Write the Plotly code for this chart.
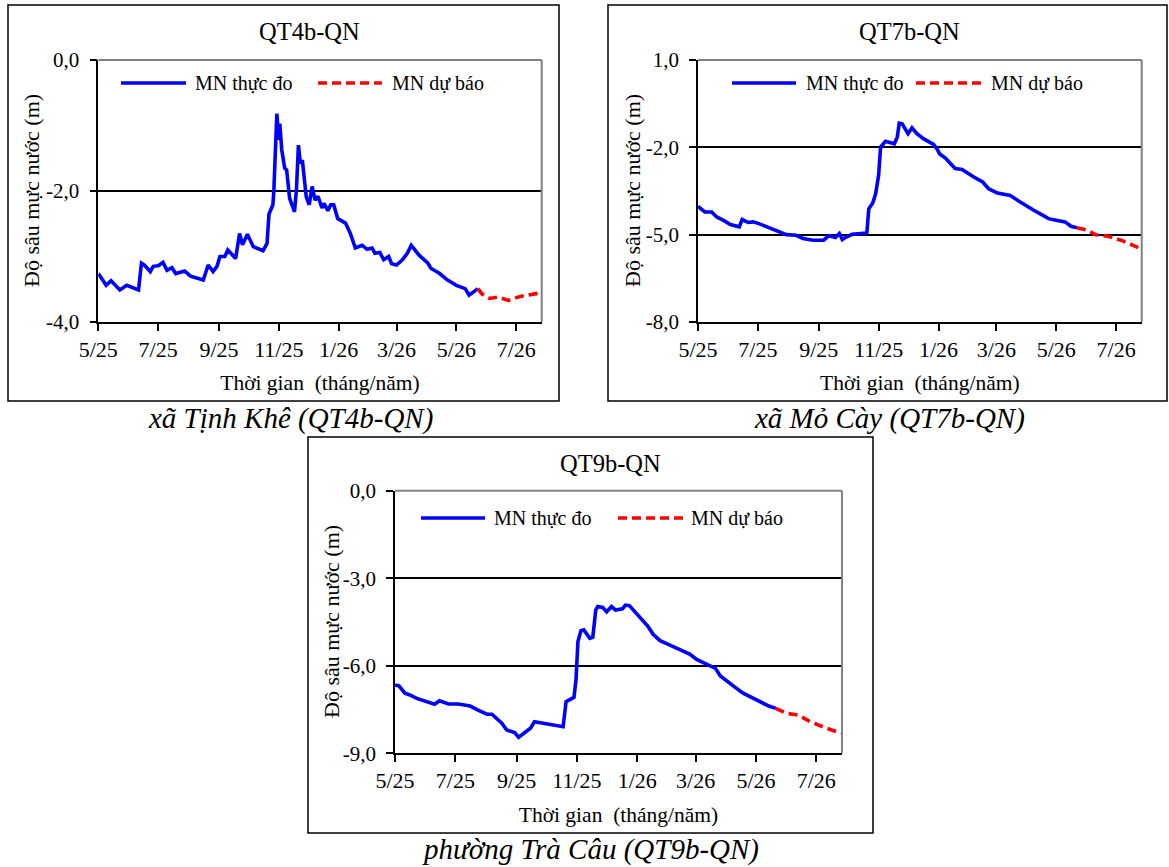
import plotly.graph_objects as go

W, H = 1169, 867
FONT = "Liberation Serif"

# ---------------- data ----------------
tick_vals = ["2025-05-01", "2025-07-01", "2025-09-01", "2025-11-01",
             "2026-01-01", "2026-03-01", "2026-05-01", "2026-07-01"]
tick_text = ["5/25", "7/25", "9/25", "11/25", "1/26", "3/26", "5/26", "7/26"]
x_range = ["2025-05-01", "2026-07-27"]

# QT4b-QN
qt4b_dates = ["2025-05-01", "2025-05-09", "2025-05-14", "2025-05-23", "2025-05-30", "2025-06-04",
              "2025-06-11", "2025-06-14", "2025-06-17", "2025-06-23", "2025-06-26", "2025-07-01",
              "2025-07-06", "2025-07-10", "2025-07-15", "2025-07-19", "2025-07-28", "2025-08-03",
              "2025-08-16", "2025-08-21", "2025-08-26", "2025-08-30", "2025-09-02", "2025-09-07",
              "2025-09-10", "2025-09-18", "2025-09-22", "2025-09-25", "2025-09-30", "2025-10-06",
              "2025-10-16", "2025-10-20", "2025-10-22", "2025-10-26", "2025-10-27", "2025-10-30",
              "2025-11-01", "2025-11-02", "2025-11-04", "2025-11-07", "2025-11-09", "2025-11-12",
              "2025-11-17", "2025-11-19", "2025-11-21", "2025-11-23", "2025-11-25", "2025-11-29",
              "2025-12-02", "2025-12-05", "2025-12-08", "2025-12-11", "2025-12-15", "2025-12-17",
              "2025-12-21", "2025-12-24", "2025-12-27", "2025-12-31", "2026-01-08", "2026-01-13",
              "2026-01-18", "2026-01-25", "2026-01-30", "2026-02-04", "2026-02-07", "2026-02-12",
              "2026-02-16", "2026-02-21", "2026-02-24", "2026-03-01", "2026-03-07", "2026-03-12",
              "2026-03-16", "2026-03-24", "2026-04-02", "2026-04-05", "2026-04-14", "2026-04-22",
              "2026-05-01", "2026-05-10", "2026-05-14", "2026-05-23"]
qt4b_obs = [-3.26, -3.44, -3.37, -3.51, -3.44, -3.47,
            -3.51, -3.10, -3.13, -3.23, -3.15, -3.14,
            -3.09, -3.21, -3.17, -3.26, -3.22, -3.30,
            -3.36, -3.13, -3.23, -3.15, -3.00, -3.00,
            -2.90, -3.03, -2.65, -2.82, -2.66, -2.85,
            -2.91, -2.80, -2.35, -2.21, -1.98, -0.82,
            -1.22, -0.97, -1.37, -1.65, -1.68, -2.11,
            -2.32, -1.98, -1.30, -1.58, -1.53, -2.09,
            -2.21, -1.93, -2.14, -2.08, -2.26, -2.19,
            -2.30, -2.21, -2.21, -2.42, -2.49, -2.65,
            -2.87, -2.83, -2.89, -2.87, -2.95, -2.94,
            -3.05, -3.00, -3.11, -3.13, -3.05, -2.95,
            -2.83, -2.98, -3.10, -3.18, -3.26, -3.36,
            -3.44, -3.49, -3.59, -3.49]
qt4b_fc_dates = ["2026-05-23", "2026-05-27", "2026-06-04", "2026-06-13", "2026-06-23", "2026-07-05", "2026-07-24"]
qt4b_fc = [-3.49, -3.57, -3.64, -3.62, -3.67, -3.61, -3.56]

# QT7b-QN
qt7b_dates = ["2025-05-01", "2025-05-08", "2025-05-15", "2025-05-20", "2025-05-27", "2025-06-03",
              "2025-06-12", "2025-06-15", "2025-06-21", "2025-06-26", "2025-07-02", "2025-07-10",
              "2025-07-20", "2025-07-30", "2025-08-09", "2025-08-16", "2025-08-26", "2025-09-06",
              "2025-09-11", "2025-09-18", "2025-09-22", "2025-09-25", "2025-09-29", "2025-10-05",
              "2025-10-20", "2025-10-22", "2025-10-26", "2025-10-29", "2025-11-01", "2025-11-03",
              "2025-11-08", "2025-11-12", "2025-11-17", "2025-11-20", "2025-11-22", "2025-11-25",
              "2025-12-01", "2025-12-05", "2025-12-10", "2025-12-17", "2025-12-22", "2025-12-27",
              "2025-12-31", "2026-01-02", "2026-01-08", "2026-01-13", "2026-01-18", "2026-01-25",
              "2026-01-30", "2026-02-06", "2026-02-15", "2026-02-21", "2026-03-02", "2026-03-08",
              "2026-03-15", "2026-03-24", "2026-04-01", "2026-04-08", "2026-04-17", "2026-04-23",
              "2026-05-02", "2026-05-10", "2026-05-16", "2026-05-22"]
qt7b_obs = [-4.03, -4.22, -4.22, -4.39, -4.51, -4.65,
            -4.73, -4.48, -4.58, -4.56, -4.62, -4.73,
            -4.88, -5.00, -5.02, -5.13, -5.19, -5.19,
            -5.04, -5.10, -4.96, -5.17, -5.08, -4.99,
            -4.94, -4.11, -3.91, -3.59, -2.96, -1.99,
            -1.79, -1.82, -1.88, -1.65, -1.17, -1.19,
            -1.53, -1.33, -1.53, -1.71, -1.80, -1.90,
            -2.08, -2.22, -2.37, -2.56, -2.73, -2.76,
            -2.88, -3.02, -3.19, -3.42, -3.57, -3.62,
            -3.65, -3.85, -4.03, -4.16, -4.33, -4.45,
            -4.51, -4.56, -4.71, -4.76]
qt7b_fc_dates = ["2026-05-22", "2026-06-02", "2026-06-10", "2026-06-22", "2026-07-06", "2026-07-16", "2026-07-26"]
qt7b_fc = [-4.76, -4.85, -5.00, -5.05, -5.19, -5.33, -5.48]

# QT9b-QN
qt9b_dates = ["2025-05-01", "2025-05-05", "2025-05-11", "2025-05-16", "2025-05-23", "2025-05-30",
              "2025-06-10", "2025-06-15", "2025-06-24", "2025-07-04", "2025-07-11", "2025-07-16",
              "2025-07-24", "2025-08-02", "2025-08-07", "2025-08-12", "2025-08-17", "2025-08-22",
              "2025-08-30", "2025-09-03", "2025-09-09", "2025-09-15", "2025-09-19", "2025-09-28",
              "2025-10-08", "2025-10-18", "2025-10-21", "2025-10-29", "2025-10-31", "2025-11-02",
              "2025-11-05", "2025-11-08", "2025-11-14", "2025-11-17", "2025-11-20", "2025-11-22",
              "2025-11-27", "2025-12-01", "2025-12-06", "2025-12-10", "2025-12-17", "2025-12-20",
              "2025-12-24", "2025-12-31", "2026-01-07", "2026-01-12", "2026-01-17", "2026-01-24",
              "2026-02-03", "2026-02-13", "2026-02-23", "2026-03-02", "2026-03-12", "2026-03-21",
              "2026-03-26", "2026-04-01", "2026-04-10", "2026-04-18", "2026-04-25", "2026-05-05",
              "2026-05-14", "2026-05-21"]
qt9b_obs = [-6.66, -6.69, -6.94, -7.00, -7.12, -7.21,
            -7.32, -7.20, -7.31, -7.31, -7.35, -7.38,
            -7.52, -7.66, -7.66, -7.80, -7.97, -8.20,
            -8.29, -8.45, -8.31, -8.14, -7.92, -7.97,
            -8.01, -8.09, -7.23, -7.08, -6.49, -5.17,
            -4.80, -4.77, -5.06, -5.02, -4.09, -3.97,
            -4.00, -4.15, -3.97, -4.09, -4.05, -3.92,
            -3.94, -4.20, -4.43, -4.66, -4.92, -5.14,
            -5.29, -5.46, -5.60, -5.78, -5.95, -6.09,
            -6.35, -6.52, -6.74, -6.94, -7.06, -7.23,
            -7.38, -7.46]
qt9b_fc_dates = ["2026-05-21", "2026-06-01", "2026-06-13", "2026-06-25", "2026-07-09", "2026-07-26"]
qt9b_fc = [-7.46, -7.63, -7.69, -7.92, -8.11, -8.31]

y_ticks_4b = [0, -2, -4]
y_text_4b = ["0,0", "-2,0", "-4,0"]
y_ticks_7b = [1, -2, -5, -8]
y_text_7b = ["1,0", "-2,0", "-5,0", "-8,0"]
y_ticks_9b = [0, -3, -6, -9]
y_text_9b = ["0,0", "-3,0", "-6,0", "-9,0"]

titles = ["QT4b-QN", "QT7b-QN", "QT9b-QN"]
captions = ["xã Tịnh Khê (QT4b-QN)", "xã Mỏ Cày (QT7b-QN)", "phường Trà Câu (QT9b-QN)"]
legend_obs = "MN thực đo"
legend_fc = "MN dự báo"
x_title = "Thời gian  (tháng/năm)"
y_title = "Độ sâu mực nước (m)"

# ---------------- layout geometry (pixels) ----------------
panels = [
    dict(suffix="", plot=(98.3, 541.7, 60, 322), box=(8, 559, 5, 401),
         title=(310, 32), legend=(121, 186, 193, 318, 382, 390, 83), caption=(290, 418),
         ytitle_x=31, dates=qt4b_dates, obs=qt4b_obs, fcd=qt4b_fc_dates, fc=qt4b_fc,
         yr=[-4, 0], yt=y_ticks_4b, ytt=y_text_4b),
    dict(suffix="2", plot=(698, 1141.7, 60, 322), box=(608, 1167, 5, 401),
         title=(909, 32), legend=(732, 796, 804, 916, 983, 989, 83), caption=(889, 418),
         ytitle_x=632, dates=qt7b_dates, obs=qt7b_obs, fcd=qt7b_fc_dates, fc=qt7b_fc,
         yr=[-8, 1], yt=y_ticks_7b, ytt=y_text_7b),
    dict(suffix="3", plot=(395, 842, 490.7, 753.3), box=(308, 873, 437, 833),
         title=(610, 463), legend=(421, 485, 492, 618, 683, 689, 518), caption=(590, 849),
         ytitle_x=331, dates=qt9b_dates, obs=qt9b_obs, fcd=qt9b_fc_dates, fc=qt9b_fc,
         yr=[-9, 0], yt=y_ticks_9b, ytt=y_text_9b),
]


def fx(v):
    return v / W


def fy(v):
    return 1 - v / H


LW = 3.6
fig = go.Figure()
shapes = []
annotations = []
layout = dict(
    width=W, height=H, margin=dict(l=0, r=0, t=0, b=0, pad=0, autoexpand=False),
    paper_bgcolor="white", plot_bgcolor="white",
    font=dict(family=FONT, color="black", size=21),
    showlegend=False,
)

for i, p in enumerate(panels):
    s = p["suffix"]
    x0, x1, y0, y1 = p["plot"]
    xa = "x" + s
    ya = "y" + s
    fig.add_trace(go.Scatter(x=p["dates"], y=p["obs"], mode="lines", name=legend_obs,
                             line=dict(color="#0000FF", width=LW), xaxis=xa, yaxis=ya))
    fig.add_trace(go.Scatter(x=p["fcd"], y=p["fc"], mode="lines", name=legend_fc,
                             line=dict(color="#FF0000", width=LW, dash="9px,5px"), xaxis=xa, yaxis=ya))
    layout["xaxis" + s] = dict(
        domain=[fx(x0), fx(x1)], anchor=ya, type="date", range=x_range,
        tickmode="array", tickvals=tick_vals, ticktext=tick_text,
        ticks="outside", ticklen=7, tickwidth=1.5, tickcolor="black",
        showline=True, linecolor="black", linewidth=1.5, showgrid=False, zeroline=False,
        automargin=False,
        tickfont=dict(size=22, family=FONT),
        title=dict(text=x_title, font=dict(size=21.5, family=FONT), standoff=14),
    )
    layout["yaxis" + s] = dict(
        domain=[fy(y1), fy(y0)], anchor=xa, range=p["yr"],
        tickmode="array", tickvals=p["yt"], ticktext=p["ytt"],
        ticks="outside", ticklen=7, tickwidth=1.5, tickcolor="black",
        ticklabelstandoff=6, automargin=False,
        showline=True, linecolor="black", linewidth=1.5,
        showgrid=True, gridcolor="black", gridwidth=1.5, zeroline=False,
        tickfont=dict(size=21, family=FONT), title=None,
    )
    # gray top/right plot-area border
    shapes.append(dict(type="line", xref=xa + " domain", yref=ya + " domain", x0=0, x1=1, y0=1, y1=1,
                       line=dict(color="#808080", width=2), layer="above"))
    shapes.append(dict(type="line", xref=xa + " domain", yref=ya + " domain", x0=1, x1=1, y0=0, y1=1,
                       line=dict(color="#808080", width=2), layer="above"))
    # outer chart box
    bx0, bx1, by0, by1 = p["box"]
    shapes.append(dict(type="rect", xref="paper", yref="paper", x0=fx(bx0), x1=fx(bx1), y0=fy(by1), y1=fy(by0),
                       line=dict(color="black", width=1.5), layer="below"))
    # legend samples
    lx0, lx1, ltx, rx0, rx1, rtx, ly = p["legend"]
    shapes.append(dict(type="line", xref="paper", yref="paper", x0=fx(lx0), x1=fx(lx1), y0=fy(ly), y1=fy(ly),
                       line=dict(color="#0000FF", width=LW)))
    shapes.append(dict(type="line", xref="paper", yref="paper", x0=fx(rx0), x1=fx(rx1), y0=fy(ly), y1=fy(ly),
                       line=dict(color="#FF0000", width=LW, dash="9px,5px")))
    annotations.append(dict(text=legend_obs, x=fx(ltx), y=fy(ly), xref="paper", yref="paper",
                            xanchor="left", yanchor="middle", showarrow=False, font=dict(size=20, family=FONT)))
    annotations.append(dict(text=legend_fc, x=fx(rtx), y=fy(ly), xref="paper", yref="paper",
                            xanchor="left", yanchor="middle", showarrow=False, font=dict(size=20, family=FONT)))
    # chart title
    tx, ty = p["title"]
    annotations.append(dict(text=titles[i], x=fx(tx), y=fy(ty), xref="paper", yref="paper",
                            xanchor="center", yanchor="middle", showarrow=False, font=dict(size=24.5, family=FONT)))
    # y-axis title
    annotations.append(dict(text=y_title, x=fx(p["ytitle_x"]), y=fy((y0 + y1) / 2), xref="paper", yref="paper",
                            xanchor="center", yanchor="middle", textangle=-90, showarrow=False,
                            font=dict(size=22, family=FONT)))
    # caption
    cx, cy = p["caption"]
    annotations.append(dict(text="<i>" + captions[i] + "</i>", x=fx(cx), y=fy(cy), xref="paper", yref="paper",
                            xanchor="center", yanchor="middle", showarrow=False, font=dict(size=29, family=FONT)))

layout["shapes"] = shapes
layout["annotations"] = annotations
fig.update_layout(**layout)
fig.write_html("out.html")
